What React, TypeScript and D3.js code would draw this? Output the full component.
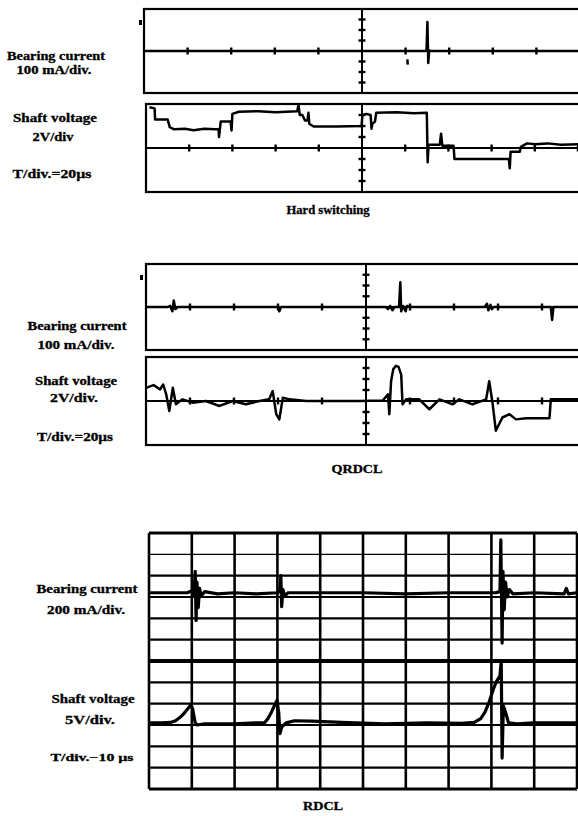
import React from "react";
import * as d3 from "d3";

type Pt = [number, number];

// ---------- DATA (time in divisions, value in divisions) ----------
const hardCurrent: Pt[] = [
  [0, 0], [6.46, 0], [6.48, 0.1], [6.5, 2.76], [6.52, -1.14], [6.54, 0.05], [6.58, 0], [10, 0],
];
const hardCurrentBlip: Pt[] = [[6.04, -0.8], [6.05, -1.3]];
const hardVoltage: Pt[] = [
  [0.08, 3.7], [0.2, 3.6], [0.21, 2.6], [0.5, 2.6], [0.55, 1.9], [0.65, 1.7], [0.9, 1.75], [1.1, 1.62],
  [1.35, 1.75], [1.6, 1.7], [1.68, 1.7], [1.69, 1.0], [1.71, 1.7], [1.73, 2.4], [1.96, 2.4], [1.98, 1.6],
  [2.0, 3.1], [2.15, 3.3], [2.6, 3.35], [3.0, 3.25], [3.5, 3.35], [3.53, 3.9], [3.56, 3.0], [3.62, 3.0],
  [3.68, 2.5], [3.74, 2.5], [3.76, 3.2], [3.78, 2.2], [3.88, 1.95], [4.4, 1.95], [4.99, 2.0], [5.01, 3.0],
  [5.1, 3.1], [5.2, 3.0], [5.22, 1.75], [5.24, 2.2], [5.3, 2.4], [5.33, 3.2], [5.8, 3.25], [6.2, 3.15],
  [6.5, 3.2], [6.52, -1.3], [6.54, 0.3], [6.8, 0.3], [6.83, 1.3], [6.86, 0.2], [7.12, 0.2], [7.14, -1.0],
  [8.35, -1.0], [8.4, -1.0], [8.42, -1.85], [8.44, -0.35], [8.65, -0.35], [8.68, 0.1], [8.82, 0.42],
  [9.0, 0.35], [9.3, 0.42], [9.6, 0.3], [10, 0.35],
];

const qrdclCurrent: Pt[] = [
  [0, 0], [0.5, 0], [0.55, 0.1], [0.6, -0.4], [0.63, 0.6], [0.67, -0.2], [0.72, 0], [3.0, 0], [3.03, -0.4],
  [3.07, 0], [5.45, 0], [5.5, -0.2], [5.55, 0.1], [5.6, -0.3], [5.65, 0], [5.75, 0], [5.78, 2.3], [5.8, -0.4],
  [5.84, 0.1], [5.9, -0.4], [5.93, 0.1], [6.0, 0], [7.7, 0], [7.75, 0.3], [7.78, -0.3], [7.83, 0.2],
  [7.86, -0.2], [7.9, 0], [9.2, 0], [9.23, -1.2], [9.26, 0], [10, 0],
];
const qrdclVoltage: Pt[] = [
  [0.0, 1.2], [0.17, 1.45], [0.32, 1.06], [0.39, 1.5], [0.46, 0.6], [0.53, -0.9], [0.61, 1.2], [0.68, -0.3],
  [0.83, 0.15], [1.06, -0.15], [1.36, 0], [1.67, -0.45], [1.97, 0], [2.27, -0.3], [2.58, 0], [2.8, 0.15],
  [2.88, 0.9], [2.96, -1.2], [3.03, -1.67], [3.11, 0.3], [3.26, 0.15], [3.64, 0], [4.85, 0], [5.38, 0.05],
  [5.5, 0.6], [5.53, -1.2], [5.57, 1.8], [5.62, 2.9], [5.68, 3.2], [5.74, 3.1], [5.8, 2.4], [5.83, -0.3],
  [5.91, 0.15], [6.21, 0.15], [6.44, -0.75], [6.67, 0.15], [6.97, -0.3], [7.12, 0.15], [7.42, -0.3],
  [7.73, 0.15], [7.8, 1.8], [7.88, -0.3], [7.95, -2.7], [8.1, -1.5], [8.26, -1.2], [8.41, -1.67],
  [8.64, -1.57], [9.17, -1.57], [9.2, 0.15], [10, 0.15],
];

const rdclCurrent: Pt[] = [
  [0, 0.2], [0.9, 0.2], [1.0, 0.3], [1.05, 0.1], [1.08, 1.2], [1.1, -1.1], [1.12, 0.7], [1.15, -0.5],
  [1.18, 0.4], [1.22, 0.05], [1.3, 0.25], [1.6, 0.15], [2.0, 0.2], [2.5, 0.15], [3.0, 0.2], [3.06, 0.3],
  [3.08, 1.0], [3.1, -0.45], [3.13, 0.35], [3.17, 0.05], [3.25, 0.2], [5, 0.2], [6, 0.15], [7, 0.2],
  [8.1, 0.2], [8.2, 0.25], [8.22, 2.68], [8.25, -2.16], [8.27, 1.2], [8.3, -0.6], [8.33, 0.7], [8.37, 0.0],
  [8.42, 0.35], [8.5, 0.15], [9, 0.2], [9.7, 0.15], [9.75, 0.4], [9.8, 0.15], [10, 0.2],
];
const rdclVoltage: Pt[] = [
  [0, 0.1], [0.3, 0.1], [0.5, 0.12], [0.62, 0.2], [0.72, 0.35], [0.82, 0.55], [0.92, 0.8], [0.98, 0.95],
  [1.02, 0.75], [1.08, 0.1], [1.12, 0.0], [1.3, 0.05], [2.0, 0.05], [2.5, 0.1], [2.7, 0.1], [2.78, 0.3],
  [2.86, 0.6], [2.94, 0.95], [2.99, 1.15], [3.03, 0.6], [3.06, -0.4], [3.1, -0.1], [3.2, 0.1], [3.4, 0.2],
  [3.8, 0.18], [4.5, 0.12], [5.5, 0.05], [6.5, 0.1], [7.3, 0.08], [7.6, 0.12], [7.75, 0.3], [7.85, 0.6],
  [7.95, 1.1], [8.05, 1.7], [8.12, 2.05], [8.2, 2.3], [8.23, 3.0], [8.25, -1.55], [8.28, 0.9], [8.33, 0.6],
  [8.4, 0.1], [8.6, 0.05], [9, 0.1], [10, 0.1],
];

const panelTitles = ["Hard switching", "QRDCL", "RDCL"];
const currentLabels = ["Bearing current", "Bearing current", "Bearing current"];
const currentScales = ["100 mA/div.", "100 mA/div.", "200 mA/div."];
const voltageLabels = ["Shaft voltage", "Shaft voltage", "Shaft voltage"];
const voltageScales = ["2V/div", "2V/div.", "5V/div."];
const timeScales = ["T/div.=20µs", "T/div.=20µs", "T/div.\u221210 µs"];

const hDivs = d3.range(0, 11);
const vDivs = d3.range(-4, 5);

const FONT = "'Liberation Serif', 'Times New Roman', serif";

type BoxProps = {
  left: number; top: number; bottom: number; center: number; traces: Pt[][];
};

function ScopeBox({ left, top, bottom, center, traces }: BoxProps) {
  const x = d3.scaleLinear().domain([0, 10]).range([left, 2 * center - left]);
  const y = d3.scaleLinear().domain([-4, 4]).range([bottom, top]);
  const line = d3.line<Pt>().x((d) => x(d[0])).y((d) => y(d[1]));
  const midY = y(0);
  return (
    <g>
      <rect x={left} y={top} width={700} height={bottom - top} fill="none" stroke="#000" strokeWidth={2.2} />
      <line x1={left} x2={600} y1={midY} y2={midY} stroke="#000" strokeWidth={1.8} />
      <line x1={center} x2={center} y1={top} y2={bottom} stroke="#000" strokeWidth={2} />
      {hDivs.filter((d) => d > 0 && d !== 5).map((d) => (
        <line key={"h" + d} x1={x(d)} x2={x(d)} y1={midY - 3.5} y2={midY + 3.5} stroke="#000" strokeWidth={2.4} />
      ))}
      {vDivs.filter((d) => d !== 0 && Math.abs(d) < 4).map((d) => (
        <line key={"v" + d} x1={center - 3.5} x2={center + 3.5} y1={y(d)} y2={y(d)} stroke="#000" strokeWidth={2.4} />
      ))}
      {traces.map((t, i) => (
        <path key={i} d={line(t) || ""} fill="none" stroke="#000" strokeWidth={2.5} strokeLinejoin="round" />
      ))}
    </g>
  );
}

function GridBox() {
  const left = 149, right = 577, top = 533, bottom = 789;
  const x = d3.scaleLinear().domain([0, 10]).range([left, right]);
  const rows = d3.scaleLinear().domain([0, 12]).range([top, bottom]);
  const yC = d3.scaleLinear().domain([-3, 3]).range([rows(6), rows(0)]);
  const yV = d3.scaleLinear().domain([-3, 3]).range([rows(12), rows(6)]);
  const lineC = d3.line<Pt>().x((d) => x(d[0])).y((d) => yC(d[1]));
  const lineV = d3.line<Pt>().x((d) => x(d[0])).y((d) => yV(d[1]));
  return (
    <g>
      {d3.range(0, 11).map((c) => (
        <line key={"c" + c} x1={x(c)} x2={x(c)} y1={top} y2={bottom} stroke="#000" strokeWidth={2.6} />
      ))}
      {d3.range(0, 13).map((r) => (
        <line key={"r" + r} x1={left} x2={right} y1={rows(r)} y2={rows(r)} stroke="#000"
          strokeWidth={r === 6 ? 4 : r === 1 ? 1.2 : r === 0 || r === 12 ? 2.8 : 2.2} />
      ))}
      <path d={lineC(rdclCurrent) || ""} fill="none" stroke="#000" strokeWidth={3.2} strokeLinejoin="round" />
      <path d={lineV(rdclVoltage) || ""} fill="none" stroke="#000" strokeWidth={3.2} strokeLinejoin="round" />
    </g>
  );
}

function Label({ x, y, text, w, size = 12.5, weight = 700 }: { x: number; y: number; text: string; w: number; size?: number; weight?: number }) {
  return (
    <text x={x} y={y} textAnchor="middle" dominantBaseline="central" fontFamily={FONT} fontWeight={weight}
      fontSize={size} textLength={w} lengthAdjust="spacingAndGlyphs" stroke="#000" strokeWidth={0.3}>
      {text}
    </text>
  );
}

export default function App() {
  return (
    <svg width={578} height={816} style={{ position: "absolute", left: 0, top: 0, background: "#fff" }}>
      <rect x={0} y={0} width={578} height={816} fill="#fff" />
      {/* Panel 1: Hard switching */}
      <ScopeBox left={144} top={9} bottom={93} center={362} traces={[hardCurrent, hardCurrentBlip]} />
      <ScopeBox left={146} top={104} bottom={192} center={362} traces={[hardVoltage]} />
      <rect x={139} y={20} width={3} height={5} fill="#000" />
      <Label x={56} y={56} text={currentLabels[0]} w={98} />
      <Label x={54} y={70} text={currentScales[0]} w={75} />
      <Label x={55} y={118} text={voltageLabels[0]} w={84} />
      <Label x={53} y={137} text={voltageScales[0]} w={41} />
      <Label x={52} y={174} text={timeScales[0]} w={79} />
      <Label x={328} y={210} text={panelTitles[0]} w={83} />

      {/* Panel 2: QRDCL */}
      <ScopeBox left={146} top={264} bottom={350} center={366} traces={[qrdclCurrent]} />
      <ScopeBox left={146} top={357} bottom={445} center={366} traces={[qrdclVoltage]} />
      <rect x={140} y={275} width={3} height={5} fill="#000" />
      <Label x={77} y={326} text={currentLabels[1]} w={99} />
      <Label x={76} y={345} text={currentScales[1]} w={77} />
      <Label x={76} y={381} text={voltageLabels[1]} w={82} />
      <Label x={74} y={398} text={voltageScales[1]} w={48} />
      <Label x={75} y={437} text={timeScales[1]} w={76} />
      <Label x={357} y={469} text={panelTitles[1]} w={51} />

      {/* Panel 3: RDCL */}
      <GridBox />
      <Label x={87} y={589} text={currentLabels[2]} w={101} />
      <Label x={86} y={610} text={currentScales[2]} w={78} />
      <Label x={93} y={699} text={voltageLabels[2]} w={83} />
      <Label x={90} y={720} text={voltageScales[2]} w={50} />
      <Label x={92} y={757} text={timeScales[2]} w={83} size={10.5} />
      <Label x={323} y={806} text={panelTitles[2]} w={40} />
    </svg>
  );
}
